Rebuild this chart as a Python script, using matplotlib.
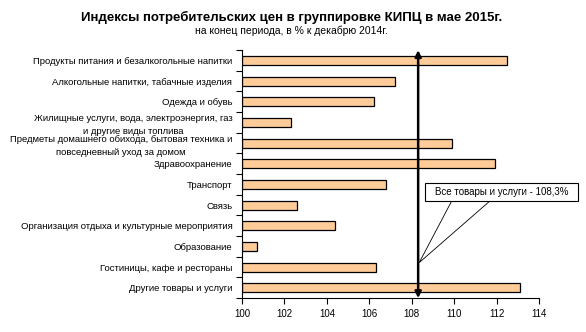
import matplotlib
matplotlib.use('Agg')
import matplotlib.pyplot as plt
from matplotlib.patches import Polygon, Rectangle
from matplotlib.ticker import FixedLocator

plt.rcParams['font.family'] = ['Liberation Sans', 'DejaVu Sans']

categories = [
    'Продукты питания и безалкогольные напитки',
    'Алкогольные напитки, табачные изделия',
    'Одежда и обувь',
    'Жилищные услуги, вода, электроэнергия, газ\nи другие виды топлива',
    'Предметы домашнего обихода, бытовая техника и\nповседневный уход за домом',
    'Здравоохранение',
    'Транспорт',
    'Связь',
    'Организация отдыха и культурные мероприятия',
    'Образование',
    'Гостиницы, кафе и рестораны',
    'Другие товары и услуги',
]
values = [112.5, 107.2, 106.2, 102.3, 109.9, 111.9, 106.8, 102.6, 104.4, 100.7, 106.3, 113.1]
overall = 108.3
overall_label = 'Все товары и услуги - 108,3%'
xticks = [100, 102, 104, 106, 108, 110, 112, 114]

fig = plt.figure(figsize=(5.86, 3.32), dpi=100)
ax = fig.add_axes([0.413, 0.102, 0.507, 0.747])

pos = list(range(len(categories)))
ax.barh(pos, [v - 100 for v in values], left=100, height=0.44,
        color='#FFCC99', edgecolor='black', linewidth=0.9)

ax.set_xlim(100, 114)
ax.set_ylim(len(categories) - 0.5, -0.5)
ax.set_xticks(xticks)
ax.set_xticklabels([str(t) for t in xticks], fontsize=7)
ax.tick_params(axis='x', direction='out', length=4, width=0.8, pad=4)

ax.set_yticks(pos)
ax.set_yticklabels(categories, fontsize=6.8, multialignment='center', linespacing=1.55)
ax.tick_params(axis='y', which='major', length=0, pad=7)
ax.yaxis.set_minor_locator(FixedLocator([p - 0.5 for p in pos] + [len(pos) - 0.5]))
ax.tick_params(axis='y', which='minor', direction='out', length=4, width=0.8)

for s in ['top', 'right']:
    ax.spines[s].set_visible(False)
ax.spines['left'].set_linewidth(0.8)
ax.spines['bottom'].set_linewidth(0.8)

# vertical double arrow for the overall index
ax.annotate('', xy=(overall, -0.5), xytext=(overall, len(categories) - 0.5),
            arrowprops=dict(arrowstyle='<|-|>', lw=1.8, color='black',
                            mutation_scale=9, shrinkA=0, shrinkB=0),
            annotation_clip=False)

# callout
tip = (overall + 0.05, 9.78)
poly = Polygon([(109.88, 6.8), tip, (111.68, 6.8)], closed=True,
               facecolor='white', edgecolor='black', linewidth=0.6,
               clip_on=False, zorder=5)
ax.add_patch(poly)
box = Rectangle((108.62, 5.93), 7.2, 0.87, facecolor='white', edgecolor='black',
                linewidth=0.8, clip_on=False, zorder=6)
ax.add_patch(box)
ax.text(108.62 + 3.6, 5.93 + 0.42, overall_label, fontsize=7, ha='center',
        va='center', zorder=7, clip_on=False)

fig.text(0.497, 0.948, 'Индексы потребительских цен в группировке КИПЦ в мае 2015г.',
         fontsize=9.5, fontweight='bold', ha='center', va='center')
fig.text(0.497, 0.906, 'на конец периода, в % к декабрю 2014г.',
         fontsize=7.5, ha='center', va='center')

fig.savefig('out.png', dpi=100)
plt.close(fig)
